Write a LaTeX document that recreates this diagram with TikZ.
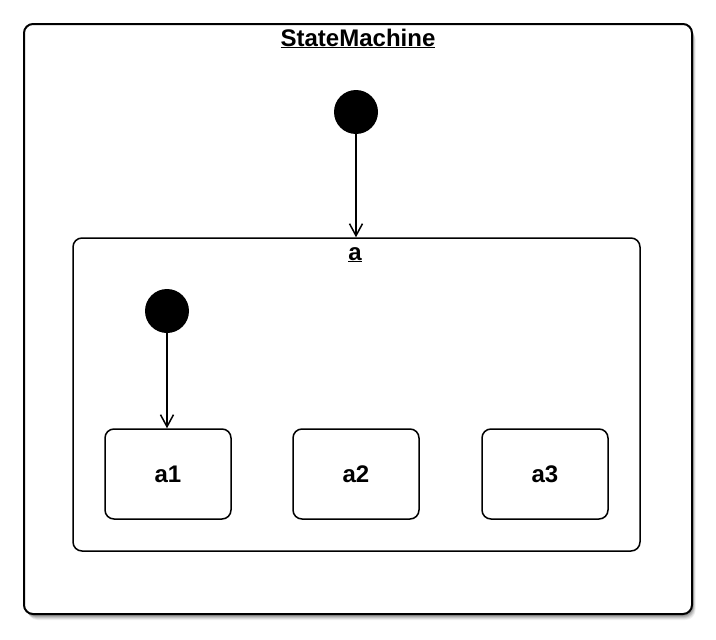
\documentclass[tikz,border=0pt]{standalone}
\usepackage{fontspec}
\setmainfont{Liberation Sans}
\usetikzlibrary{arrows.meta}
\tikzset{
  container/.style={draw, rounded corners=9pt, fill=white, inner sep=0pt},
  statebox/.style={draw, line width=1.5pt, rounded corners=9pt, minimum width=126pt, minimum height=90pt, inner sep=0pt, text height=17pt, text depth=0pt, font=\fontsize{24}{28}\bfseries},
  initdot/.style={circle, fill=black, minimum size=44pt, inner sep=0pt},
  title/.style={anchor=base, font=\fontsize{24}{28}\bfseries},
  trans/.style={line width=1.5pt, -{Straight Barb[length=12pt,width=13pt,line width=1.5pt]}}
}
\begin{document}
\begin{tikzpicture}[x=1pt,y=-1pt]
\useasboundingbox (0,0) rectangle (716,640);
% soft shadow of the outer box
\foreach \o/\op in {6/0.06,5/0.08,4/0.1,3/0.12,2/0.14}{
  \fill[black, opacity=\op, rounded corners=10pt] (24+\o*0.6,24+\o) rectangle (692+\o*0.6,614+\o);
}
\node[container, line width=2pt, minimum width=668pt, minimum height=590pt] (sm) at (358,319) {};
\node[title] (smt) at (358,46) {\underline{StateMachine}};
\node[initdot] (i1) at (356,112) {};
\node[container, line width=1.5pt, minimum width=567pt, minimum height=313pt] (a) at (356.5,394.5) {};
\node[title] (at) at (355,260) {\underline{a}};
\node[initdot] (i2) at (167,311) {};
\node[statebox] (a1) at (168,474) {a1};
\node[statebox] (a2) at (356,474) {a2};
\node[statebox] (a3) at (545,474) {a3};
\draw[trans] (i1) -- (i1 |- a.north);
\draw[trans] (i2) -- (i2 |- a1.north);
\end{tikzpicture}
\end{document}
